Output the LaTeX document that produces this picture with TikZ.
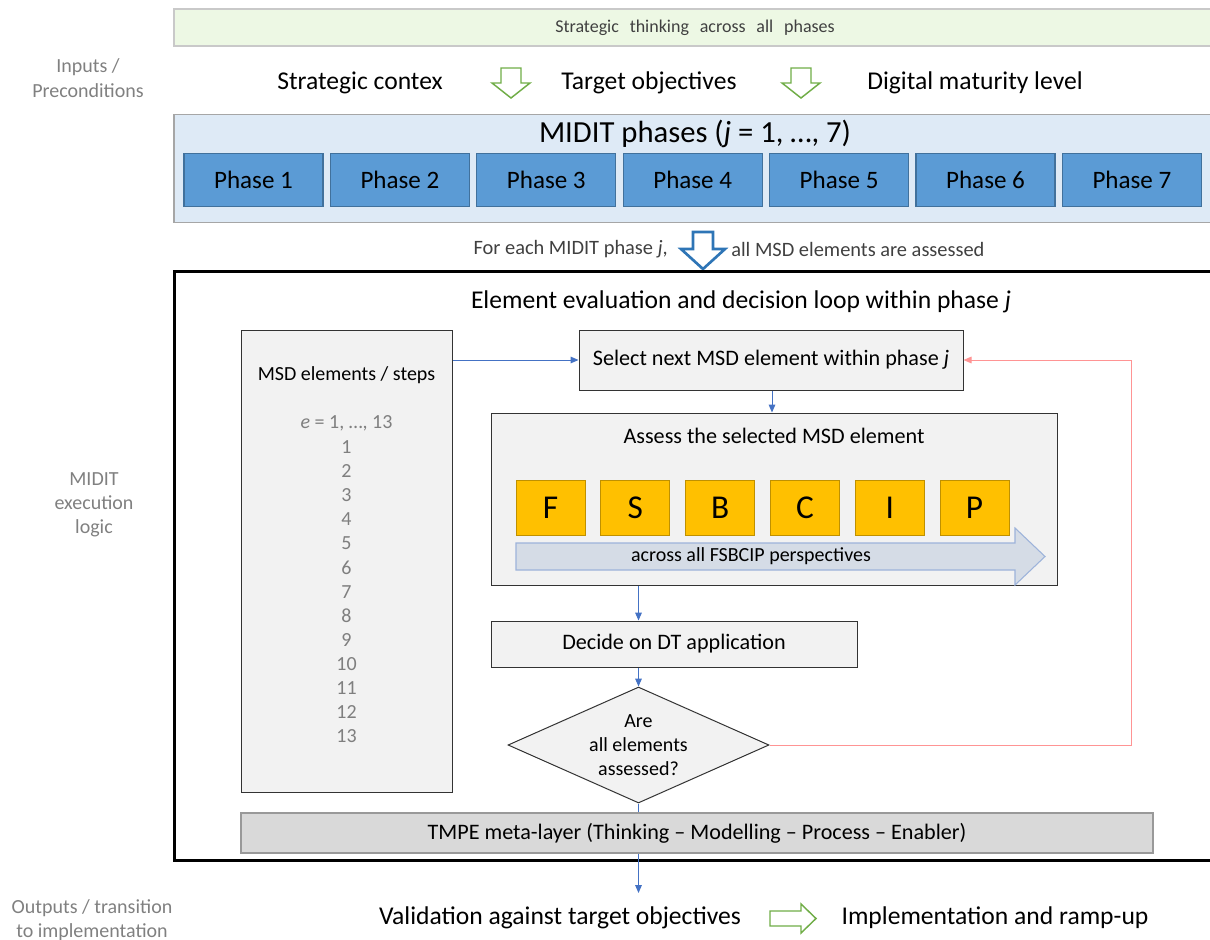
\documentclass[tikz,border=0pt]{standalone}
\usepackage{fontspec}
\setmainfont{Carlito}
\usetikzlibrary{shapes.geometric,arrows.meta}
\definecolor{barGreen}{HTML}{EDF8E4}
\definecolor{barEdge}{HTML}{C9C9C9}
\definecolor{phaseBg}{HTML}{DEEAF6}
\definecolor{phaseFill}{HTML}{5B9BD5}
\definecolor{phaseEdge}{HTML}{41719C}
\definecolor{boxFill}{HTML}{F2F2F2}
\definecolor{letterFill}{HTML}{FFC000}
\definecolor{letterEdge}{HTML}{BF9000}
\definecolor{bigArrowFill}{HTML}{D5DCE6}
\definecolor{bigArrowEdge}{HTML}{9DB3DA}
\definecolor{metaFill}{HTML}{D9D9D9}
\definecolor{flowBlue}{HTML}{4472C4}
\definecolor{loopRed}{HTML}{FF9494}
\definecolor{okGreen}{HTML}{70AD47}
\definecolor{downBlue}{HTML}{2E75B6}
\definecolor{sideGray}{HTML}{808080}
\definecolor{numGray}{HTML}{7F7F7F}
\definecolor{textGray}{HTML}{404040}

% block arrow pointing down: style, centre x, shaft half width, top y, head y, tip y, head half width
\newcommand{\blockdown}[7]{%
  \draw[#1] ({#2-#3},#4) -- ({#2+#3},#4) -- ({#2+#3},#5) -- ({#2+#7},#5)
    -- (#2,#6) -- ({#2-#7},#5) -- ({#2-#3},#5) -- cycle;}

\begin{document}
\begin{tikzpicture}[x=0.75pt,y=-0.75pt,
  every node/.style={inner sep=0pt, align=center},
  sidelabel/.style={text=sideGray, font=\fontsize{15pt}{18.2pt}\selectfont},
  bigtext/.style={font=\fontsize{19.2pt}{22pt}\selectfont},
  steptext/.style={font=\fontsize{16.6pt}{19pt}\selectfont},
  phasebox/.style={draw=phaseEdge, fill=phaseFill, line width=0.8pt,
    minimum width=139*0.75pt, minimum height=53*0.75pt,
    font=\fontsize{18.8pt}{21pt}\selectfont},
  graybox/.style={draw=black!80, fill=boxFill, line width=0.75pt},
  letterbox/.style={draw=letterEdge, fill=letterFill, line width=0.75pt,
    minimum width=69*0.75pt, minimum height=55*0.75pt,
    font=\fontsize{25pt}{28pt}\selectfont},
  flow/.style={draw=flowBlue, line width=0.75pt, -{Triangle[length=6pt,width=5pt]}},
  numtext/.style={text=numGray, font=\fontsize{15pt}{17pt}\selectfont},
]
\useasboundingbox (0,0) rectangle (1210,939);
\clip (0,0) rectangle (1210,939);

% --- side captions ---
\node[sidelabel] (capIn) at (88,78) {Inputs /\\Preconditions};
\node[sidelabel] (capExec) at (94,505) {MIDIT\\execution\\logic};
\node[sidelabel] (capOut) at (92,920) {Outputs / transition\\to implementation};

% --- strategic thinking bar ---
\node[draw=barEdge, fill=barGreen, line width=0.8pt, minimum width=1040*0.75pt,
  minimum height=37*0.75pt, text=textGray, font=\fontsize{13.5pt}{16pt}\selectfont]
  (strat) at (694,27.5) {};
\node[text=textGray, font=\fontsize{13.5pt}{16pt}\selectfont] (stratText) at (695,27.5)
  {\spaceskip=0.6em Strategic thinking across all phases};

% --- inputs row ---
\node[bigtext] (ctx) at (360,83) {Strategic contex};
\node[bigtext] (obj) at (649,83) {Target objectives};
\node[bigtext] (mat) at (975,83) {Digital maturity level};
\blockdown{draw=okGreen, fill=white, line width=1.1pt, line join=miter}{511}{10}{68}{83}{98}{19}
\blockdown{draw=okGreen, fill=white, line width=1.1pt, line join=miter}{801}{10}{68}{83}{98}{19}

% --- MIDIT phases ---
\node[draw=black!35, fill=phaseBg, line width=0.8pt, minimum width=1040*0.75pt,
  minimum height=108*0.75pt] (phases) at (694,168.5) {};
\node[font=\fontsize{23pt}{26pt}\selectfont] (phTitle) at (695,134)
  {MIDIT phases (\emph{j} = 1, …, 7)};
\foreach \k in {1,...,7} {
  \node[phasebox] (ph\k) at ({253.5+146.4*(\k-1)},180) {Phase \k};
}

% --- transition into the loop ---
\node[anchor=east, text=textGray, font=\fontsize{15.3pt}{17pt}\selectfont]
  (forEach) at (668,249.5) {For each MIDIT phase \emph{j},};
\node[anchor=west, text=textGray, font=\fontsize{15.3pt}{17pt}\selectfont]
  (allMsd) at (731,249.5) {all MSD elements are assessed};
\blockdown{draw=downBlue, fill=white, line width=2pt, line join=miter}{703}{10}{232}{249}{269}{22}

% --- execution frame ---
\draw[line width=2.25pt] (174,271) rectangle (1216,860);
\node[bigtext] (loopTitle) at (741,302)
  {Element evaluation and decision loop within phase \emph{j}};

% --- MSD element list ---
\node[graybox, minimum width=211*0.75pt, minimum height=462*0.75pt] (msd) at (346.5,561) {};
\node[font=\fontsize{15pt}{17pt}\selectfont] (msdTitle) at (346.5,375) {MSD elements / steps};
\node[numtext] (eRange) at (346.5,423) {\emph{e} = 1, …, 13};
\foreach \n in {1,...,13} {
  \node[numtext] (num\n) at (346.5,{447+24.1*(\n-1)}) {\n};
}

% --- loop steps ---
\node[graybox, steptext, minimum width=384*0.75pt, minimum height=60*0.75pt]
  (sel) at (771,360) {Select next MSD element within phase \emph{j}};
\node[graybox, minimum width=566*0.75pt, minimum height=172*0.75pt] (assess) at (774,499) {};
\node[steptext] (assessTitle) at (774,436) {Assess the selected MSD element};
\foreach \L [count=\i] in {F,S,B,C,I,P} {
  \node[letterbox] (let\i) at ({550.5+84.8*(\i-1)},507.5) {\L};
}
\draw[draw=bigArrowEdge, fill=bigArrowFill, line width=0.8pt]
  (516,543) -- (1015,543) -- (1015,528) -- (1045,556.5) -- (1015,585)
  -- (1015,570) -- (516,570) -- cycle;
\node[font=\fontsize{15pt}{17pt}\selectfont] (across) at (751,556.5)
  {across all FSBCIP perspectives};

\node[graybox, steptext, minimum width=366*0.75pt, minimum height=46*0.75pt]
  (decide) at (674,644) {Decide on DT application};
\node[graybox, diamond, shape aspect=2.25, minimum width=261*0.75pt,
  minimum height=116*0.75pt, font=\fontsize{15pt}{18pt}\selectfont]
  (dia) at (638.5,745) {Are\\all elements\\assessed?};

\node[draw=black!40, fill=metaFill, line width=0.8pt, minimum width=912*0.75pt,
  minimum height=40*0.75pt, font=\fontsize{16.6pt}{19pt}\selectfont]
  (tmpe) at (697,833) {TMPE meta-layer (Thinking – Modelling – Process – Enabler)};

% --- outputs row ---
\node[bigtext] (val) at (560,918) {Validation against target objectives};
\node[bigtext] (impl) at (995,918) {Implementation and ramp-up};
\draw[draw=okGreen, fill=white, line width=1.1pt, line join=miter]
  (770,911) -- (801,911) -- (801,904) -- (816,918.5) -- (801,933) -- (801,926)
  -- (770,926) -- cycle;

% --- connectors ---
\coordinate (loopCorner) at (1131,360);
\draw[flow] (msd.east |- sel.west) -- (sel.west);
\draw[flow] (sel.south -| 772,0) -- (assess.north -| 772,0);
\draw[flow] (assess.south -| dia.north) -- (decide.north -| dia.north);
\draw[flow] (decide.south -| dia.north) -- (dia.north);
\draw[draw=loopRed, line width=0.75pt, -{Triangle[length=6pt,width=5pt]}]
  (dia.east) -| (loopCorner) -- (sel.east);
\draw[draw=flowBlue, line width=0.75pt] (dia.south) -- (dia.south |- tmpe.north);
\draw[flow] (dia.south |- tmpe.south) -- (dia.south |- 0,893);
\end{tikzpicture}
\end{document}
